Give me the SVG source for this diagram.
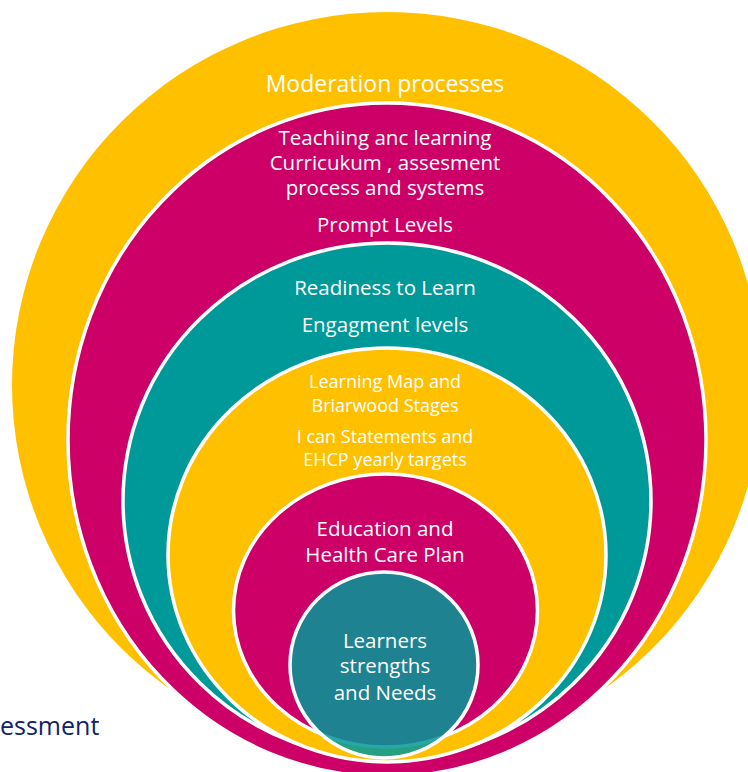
<svg xmlns="http://www.w3.org/2000/svg" width="748" height="772" viewBox="0 0 748 772">
  <style>
    .ring { stroke: #FFFFFF; stroke-width: 3.5; }
    .y { fill: #FFC000; }
    .m { fill: #CC0066; }
    .t { fill: #009999; }
    .lbl { font-family: "Open Sans", "Noto Sans", sans-serif; fill: #FFFFFF; text-anchor: middle; }
    .l1 { font-size: 23px; }
    .l2 { font-size: 20.5px; }
    .l3 { font-size: 18px; }
  </style>
  <rect x="0" y="0" width="748" height="772" fill="#FFFFFF"/>
  <g id="moderation">
    <ellipse class="y" cx="387" cy="385" rx="375" ry="373"/>
    <text class="lbl l1" x="385" y="92">Moderation processes</text>
  </g>
  <g id="teaching">
    <ellipse class="m ring" cx="387" cy="440" rx="319" ry="337"/>
    <text class="lbl l2" x="385" y="145">Teachiing anc learning</text>
    <text class="lbl l2" x="385" y="170">Curricukum , assesment</text>
    <text class="lbl l2" x="385" y="195">process and systems</text>
    <text class="lbl l2" x="385" y="232">Prompt Levels</text>
  </g>
  <g id="readiness">
    <ellipse class="t ring" cx="387" cy="501" rx="264" ry="258"/>
    <text class="lbl l2" x="385" y="295">Readiness to Learn</text>
    <text class="lbl l2" x="385" y="332">Engagment levels</text>
  </g>
  <g id="learning-map">
    <ellipse class="y ring" cx="387" cy="555" rx="219" ry="207"/>
    <text class="lbl l3" x="385" y="388">Learning Map and</text>
    <text class="lbl l3" x="385" y="412">Briarwood Stages</text>
    <text class="lbl l3" x="385" y="443">I can Statements and</text>
    <text class="lbl l3" x="385" y="466">EHCP yearly targets</text>
  </g>
  <g id="ehcp">
    <ellipse class="m ring" cx="385.5" cy="610.5" rx="152" ry="136.5"/>
    <text class="lbl l2" x="385" y="536">Education and</text>
    <text class="lbl l2" x="385" y="562">Health Care Plan</text>
  </g>
  <g id="learners">
    <ellipse cx="384" cy="665" rx="94" ry="93" fill="#009999" fill-opacity="0.85" stroke="#FFFFFF" stroke-width="3.5"/>
    <text class="lbl l2" x="385" y="648">Learners</text>
    <text class="lbl l2" x="385" y="673">strengths</text>
    <text class="lbl l2" x="385" y="700">and Needs</text>
  </g>
  <g id="connectors"></g>
  <text x="0" y="735" font-family="Open Sans, Noto Sans, sans-serif" font-size="25" fill="#0F2468">essment</text>
</svg>
